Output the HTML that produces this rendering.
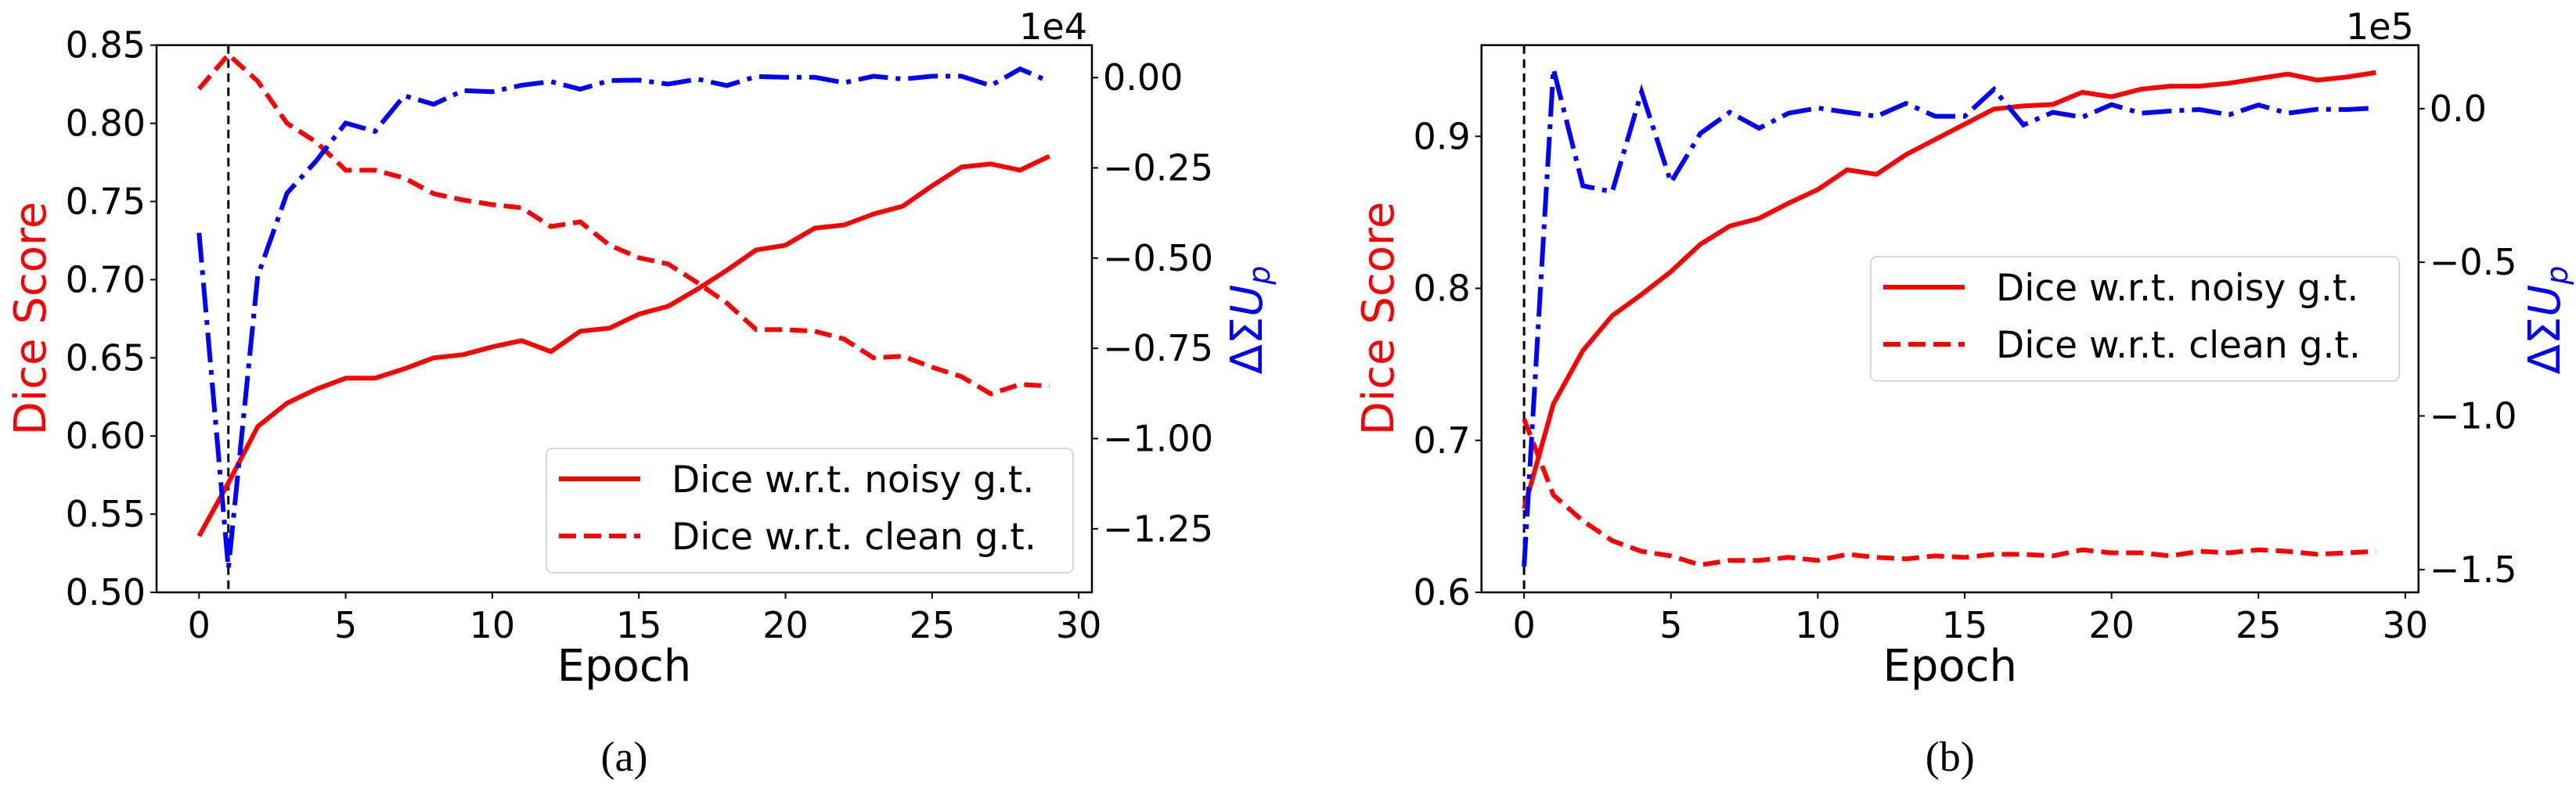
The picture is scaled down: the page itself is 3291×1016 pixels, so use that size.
<!DOCTYPE html>
<html><head><meta charset="utf-8"><style>
html,body{margin:0;padding:0;background:#fff;}
svg{display:block;font-family:"DejaVu Sans","Liberation Sans",sans-serif;}
</style></head><body>
<svg id="fig" width="3291" height="1016" viewBox="0 0 3291 1016" xmlns="http://www.w3.org/2000/svg"></svg>
<script>
const epochs = Array.from({length:30},(_,i)=>i);
const aNoisy = [0.536,0.570,0.606,0.621,0.630,0.637,0.637,0.643,0.650,0.652,0.657,0.661,0.654,0.667,0.669,0.678,0.683,0.694,0.706,0.719,0.722,0.733,0.735,0.742,0.747,0.760,0.772,0.774,0.770,0.779];
const aClean = [0.822,0.844,0.827,0.800,0.788,0.770,0.770,0.765,0.755,0.751,0.748,0.746,0.734,0.737,0.722,0.714,0.710,0.698,0.685,0.668,0.668,0.667,0.662,0.650,0.651,0.644,0.638,0.627,0.633,0.632];
const aDelta = [-0.43,-1.36,-0.55,-0.32,-0.23,-0.126,-0.149,-0.05,-0.074,-0.036,-0.039,-0.021,-0.011,-0.032,-0.008,-0.007,-0.018,-0.004,-0.022,0.003,0.001,0.001,-0.014,0.004,-0.004,0.004,0.004,-0.022,0.024,-0.011];
const bNoisy = [0.655,0.724,0.759,0.782,0.796,0.811,0.829,0.841,0.846,0.856,0.865,0.878,0.875,0.888,0.898,0.908,0.918,0.920,0.921,0.929,0.926,0.931,0.933,0.933,0.935,0.938,0.941,0.937,0.939,0.942];
const bClean = [0.714,0.664,0.647,0.634,0.627,0.624,0.618,0.621,0.621,0.623,0.621,0.625,0.623,0.622,0.624,0.623,0.625,0.625,0.624,0.628,0.626,0.626,0.624,0.627,0.626,0.628,0.627,0.625,0.626,0.627];
const bDelta = [-1.49,0.129,-0.251,-0.271,0.055,-0.240,-0.081,-0.012,-0.064,-0.015,0.002,-0.012,-0.025,0.017,-0.025,-0.025,0.063,-0.053,-0.012,-0.028,0.013,-0.015,-0.008,-0.003,-0.020,0.012,-0.015,-0.002,-0.003,0.002];
const xTicks = [0,5,10,15,20,25,30];
const aLeftTicks = [0.50,0.55,0.60,0.65,0.70,0.75,0.80,0.85];
const aRightTicks = [0,-0.25,-0.5,-0.75,-1.0,-1.25];
const bLeftTicks = [0.6,0.7,0.8,0.9];
const bRightTicks = [0,-0.5,-1.0,-1.5];

const NS="http://www.w3.org/2000/svg";
const svg=document.getElementById('fig');
function mk(tag,attrs,parent){const e=document.createElementNS(NS,tag);for(const k in attrs)e.setAttribute(k,attrs[k]);(parent||svg).appendChild(e);return e;}
function txt(s,x,y,size,anchor,fill,parent,extra){const t=mk('text',Object.assign({x:x,y:y,'font-size':size,'text-anchor':anchor,fill:fill},extra||{}),parent);t.textContent=s;return t;}
function fmt(v,d){let s=Math.abs(v).toFixed(d);return (v<0?'\u2212':'')+s;}

function panel(p){
  const g=mk('g',{});
  
  
  const X=v=>p.L+(v-p.xmin)/(p.xmax-p.xmin)*(p.R-p.L);
  const Y=v=>p.B-(v-p.ymin)/(p.ymax-p.ymin)*(p.B-p.T);
  const Y2=v=>p.B-(v-p.y2min)/(p.y2max-p.y2min)*(p.B-p.T);
  const vl=mk('line',{x1:X(p.vline),x2:X(p.vline),y1:p.T,y2:p.B,stroke:'#000','stroke-width':3,'stroke-dasharray':'11,7'},g);
  
  
  const path=(arr,yf)=>arr.map((v,i)=>(i?'L':'M')+X(epochs[i]).toFixed(1)+' '+yf(v).toFixed(1)).join(' ');
  const l1=mk('path',{d:path(p.noisy,Y),fill:'none',stroke:'#ff0000','stroke-width':6,'stroke-linejoin':'round'},g);
  
  
  const l2=mk('path',{d:path(p.clean,Y),fill:'none',stroke:'#ff0000','stroke-width':6,'stroke-dasharray':'22,10'},g);
  
  
  const l3=mk('path',{d:path(p.delta,Y2),fill:'none',stroke:'#0000ff','stroke-width':6,'stroke-dasharray':'38,10,6,10'},g);
  
  
  const fr=mk('rect',{x:p.L,y:p.T,width:p.R-p.L,height:p.B-p.T,fill:'none',stroke:'#000','stroke-width':2.5},g);
  
  
  xTicks.forEach(v=>{mk('line',{x1:X(v),x2:X(v),y1:p.B,y2:p.B+8,stroke:'#000','stroke-width':2},g);
    const t=txt(String(v),X(v),p.B+58,46,'middle','#000',g);
    
    });
  p.lt.forEach(v=>{mk('line',{x1:p.L-8,x2:p.L,y1:Y(v),y2:Y(v),stroke:'#000','stroke-width':2},g);
    const t=txt(v.toFixed(p.ld),p.L-14,Y(v)+16,46,'end','#000',g);
    
    });
  p.rt.forEach(v=>{mk('line',{x1:p.R,x2:p.R+8,y1:Y2(v),y2:Y2(v),stroke:'#000','stroke-width':2},g);
    const t=txt(fmt(v,p.rd),p.R+14,Y2(v)+16,46,'start','#000',g);
    
    });
  const off=txt(p.off,p.R-6,50,46,'end','#000',g);
  
  
  const yl=txt('Dice Score',0,0,56,'middle','#ff0000',g,{transform:`translate(${p.ylx},407) rotate(-90)`});
  
  
  const y2=mk('text',{transform:`translate(${p.y2x},409) rotate(-90)`,'font-size':56,'text-anchor':'middle',fill:'#0000ff'},g);
  y2.innerHTML='\u0394\u03A3<tspan font-style="italic">U</tspan><tspan font-size="38" dy="10" font-style="italic">p</tspan>';
  
  
  const xl=txt('Epoch',(p.L+p.R)/2,870,56,'middle','#000',g);
  
  
  const cap=txt(p.cap,(p.L+p.R)/2,985,54,'middle','#000',g,{'font-family':'"Liberation Serif",serif'});
  
  
  const lg=mk('g',{},g);
  
  
  mk('rect',{x:p.lgx,y:p.lgy,width:p.lgw,height:159,rx:8,fill:'#fff','fill-opacity':0.85,stroke:'#d8d8d8','stroke-width':2},lg);
  mk('line',{x1:p.lgx+16,x2:p.lgx+120,y1:p.lgy+39,y2:p.lgy+39,stroke:'#ff0000','stroke-width':6},lg);
  mk('line',{x1:p.lgx+16,x2:p.lgx+120,y1:p.lgy+112,y2:p.lgy+112,stroke:'#ff0000','stroke-width':6,'stroke-dasharray':'22,10'},lg);
  const e1=txt('Dice w.r.t. noisy g.t.',p.lgx+160,p.lgy+56,47,'start','#000',lg);
  
  
  const e2=txt('Dice w.r.t. clean g.t.',p.lgx+160,p.lgy+129,47,'start','#000',lg);
  
  
}
panel({name:'panel-a',L:200,R:1395,T:57.7,B:757,xmin:-1.45,xmax:30.45,ymin:0.50,ymax:0.85,y2min:-1.426,y2max:0.09,
  noisy:aNoisy,clean:aClean,delta:aDelta,vline:1,lt:aLeftTicks,ld:2,rt:aRightTicks,rd:2,off:'1e4',
  ylx:58,y2x:1612,cap:'(a)',lgx:698,lgy:573,lgw:673});
panel({name:'panel-b',L:1892.7,R:3089.8,T:57.7,B:757,xmin:-1.45,xmax:30.45,ymin:0.6,ymax:0.96,y2min:-1.574,y2max:0.2065,
  noisy:bNoisy,clean:bClean,delta:bDelta,vline:0,lt:bLeftTicks,ld:1,rt:bRightTicks,rd:1,off:'1e5',
  ylx:1780,y2x:3270,cap:'(b)',lgx:2390,lgy:328,lgw:675});
</script>
</body></html>
